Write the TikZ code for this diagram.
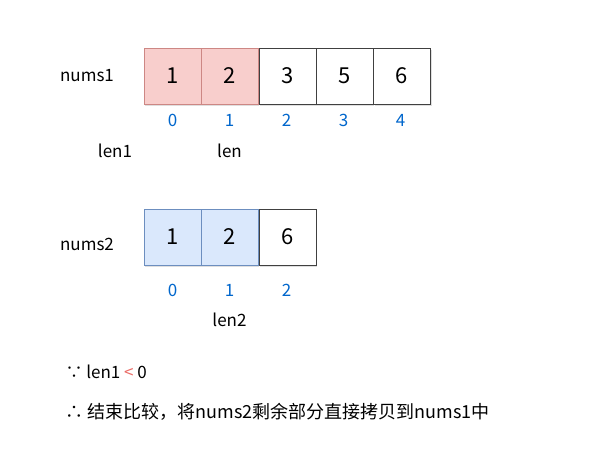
\documentclass[tikz,border=0pt]{standalone}
\usepackage{fontspec}
\setmainfont{Noto Sans CJK SC}
\usepackage{xcolor}
\usetikzlibrary{positioning,shadows}
\definecolor{redfill}{HTML}{F8CECC}
\definecolor{redline}{HTML}{B85450}
\definecolor{bluefill}{HTML}{DAE8FC}
\definecolor{blueline}{HTML}{6C8EBF}
\definecolor{idxblue}{HTML}{0066CC}
\definecolor{ltred}{HTML}{EA6B66}
\tikzset{
    cell/.style={draw=black!75, fill=white, minimum width=57pt, minimum height=56pt, inner sep=0pt,
        font=\fontsize{22}{26}\selectfont, drop shadow={opacity=0.25, shadow xshift=1pt, shadow yshift=-1.5pt}},
    redcell/.style={cell, fill=redfill, draw=redline!70},
    bluecell/.style={cell, fill=bluefill, draw=blueline},
    index/.style={text=idxblue, font=\fontsize{17}{20}\selectfont},
    label/.style={font=\fontsize{17}{20}\selectfont}
}

\begin{document}
\begin{tikzpicture}[x=1pt, y=-1pt]
    \useasboundingbox (0,0) rectangle (590,459);

    % nums1
    \node[label] (n1) at (87,76) {nums1};
    \node[redcell] (a0) at (172.5,76) {1};
    \node[redcell, right=0pt of a0] (a1) {2};
    \node[cell, right=0pt of a1] (a2) {3};
    \node[cell, right=0pt of a2] (a3) {5};
    \node[cell, right=0pt of a3] (a4) {6};

    \node[index] (i0) at (172.5,120) {0};
    \node[index] (i1) at (229.5,120) {1};
    \node[index] (i2) at (286.5,120) {2};
    \node[index] (i3) at (343.5,120) {3};
    \node[index] (i4) at (400.5,120) {4};

    \node[label] (len1) at (115,151) {len1};
    \node[label] (len) at (229.5,151) {len};

    % nums2
    \node[label] (n2) at (87,244) {nums2};
    \node[bluecell] (b0) at (172.5,237) {1};
    \node[bluecell, right=0pt of b0] (b1) {2};
    \node[cell, right=0pt of b1] (b2) {6};

    \node[index] (j0) at (172.5,290) {0};
    \node[index] (j1) at (229.5,290) {1};
    \node[index] (j2) at (286.5,290) {2};

    \node[label] (len2) at (229.5,320) {len2};

    % conclusion
    \node[label, anchor=west] (because) at (62,372) {∵ len1 \textcolor{ltred}{<} 0};
    \node[label, anchor=west, font=\fontsize{18}{21}\selectfont] (therefore) at (62,412) {∴ 结束比较，将nums2剩余部分直接拷贝到nums1中};
\end{tikzpicture}
\end{document}
